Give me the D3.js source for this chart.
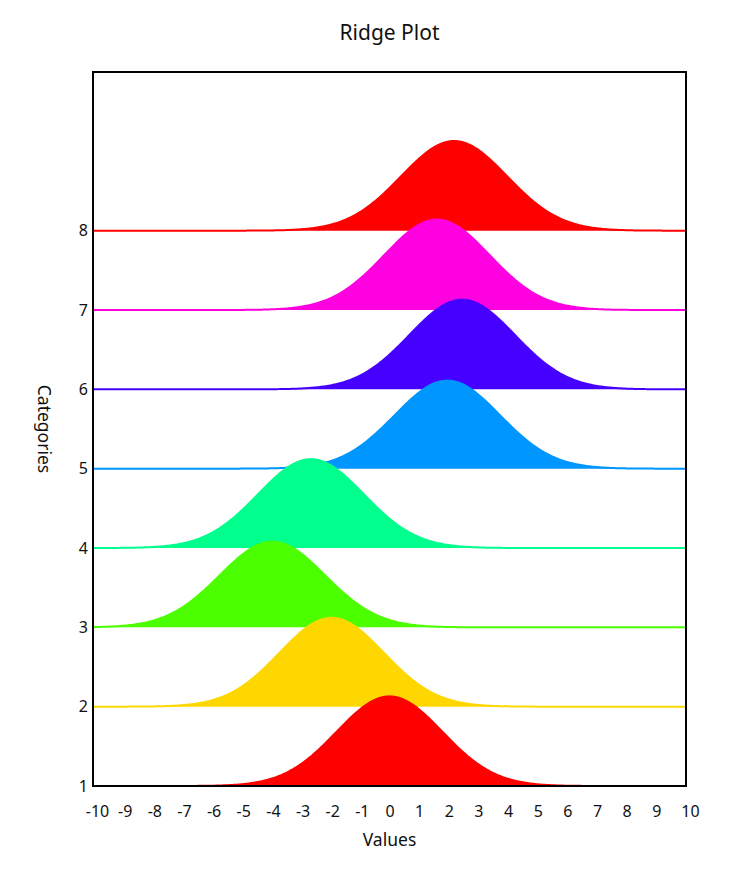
<!DOCTYPE html>
<html>
<head>
<meta charset="utf-8">
<script src="https://cdn.jsdelivr.net/npm/d3@7"></script>
<style>
  html, body { margin: 0; padding: 0; background: #ffffff; }
  svg { display: block; }
  text { font-family: "Noto Sans", "Open Sans", sans-serif; fill: #111; }
</style>
</head>
<body>
<svg id="chart" width="729" height="875"></svg>
<script>
// ---- data ----
const categories = [1, 2, 3, 4, 5, 6, 7, 8];
const means      = [0.0, -1.95, -3.95, -2.65, 1.95, 2.45, 1.6, 2.18];
const sds        = [1.78, 1.76, 1.78, 1.78, 1.78, 1.78, 1.78, 1.79];
const peaks      = [1.13, 1.12, 1.08, 1.12, 1.11, 1.13, 1.14, 1.13];
const colors     = ["#ff0000", "#ffd700", "#4cff00", "#00ff8c", "#0096ff", "#4600ff", "#ff00e0", "#ff0000"];
const xTicks     = [-10, -9, -8, -7, -6, -5, -4, -3, -2, -1, 0, 1, 2, 3, 4, 5, 6, 7, 8, 9, 10];
const yTicks     = [1, 2, 3, 4, 5, 6, 7, 8];

(function () {
const svg = d3.select("#chart");
const mL = 93, mR = 686, mT = 72, mB = 786;

const x = d3.scaleLinear().domain([-10, 10]).range([mL, mR]);
const y = d3.scaleLinear().domain([1, 10]).range([mB, mT]);

const grid = d3.range(-10, 10.0001, 0.05);

const area = d3.area()
  .x(d => x(d[0]))
  .y0(d => y(d[2]))
  .y1(d => y(d[2] + d[1]));
const line = d3.line()
  .x(d => x(d[0]))
  .y(d => y(d[2] + d[1]));

const ridges = svg.append("g");
// highest category first so lower ones sit on top
for (let i = categories.length - 1; i >= 0; i--) {
  const m = means[i], s = sds[i], p = peaks[i], base = categories[i];
  const pts = grid.map(v => [v, p * Math.exp(-0.5 * ((v - m) / s) ** 2), base]);
  ridges.append("path").datum(pts).attr("d", area).attr("fill", colors[i]);
  ridges.append("path").datum(pts).attr("d", line)
    .attr("fill", "none").attr("stroke", colors[i]).attr("stroke-width", 2);
}

// frame
svg.append("rect")
  .attr("x", mL).attr("y", mT)
  .attr("width", mR - mL).attr("height", mB - mT)
  .attr("fill", "none").attr("stroke", "#000").attr("stroke-width", 2);

// x axis labels (no tick marks)
const xAxis = d3.axisBottom(x).tickValues(xTicks).tickSize(0).tickPadding(20).tickFormat(d => String(d));
const gx = svg.append("g").attr("transform", `translate(0,${mB})`).call(xAxis);
gx.select(".domain").remove();
gx.selectAll("text")
  .style("font-family", '"Noto Sans", sans-serif')
  .style("font-size", "16px")
  .attr("fill", "#111")
  .attr("dx", d => d === -10 ? 4 : d === 10 ? 4 : d < 0 ? 2 : 0);

// y axis labels
const yAxis = d3.axisLeft(y).tickValues(yTicks).tickSize(0).tickPadding(5).tickFormat(d => String(d));
const gy = svg.append("g").attr("transform", `translate(${mL},0)`).call(yAxis);
gy.select(".domain").remove();
gy.selectAll("text")
  .style("font-family", '"Noto Sans", sans-serif')
  .style("font-size", "16px")
  .attr("fill", "#111");

// titles
svg.append("text")
  .attr("x", (mL + mR) / 2).attr("y", 40)
  .attr("text-anchor", "middle")
  .style("font-size", "21px")
  .text("Ridge Plot");

svg.append("text")
  .attr("x", (mL + mR) / 2).attr("y", 846)
  .attr("text-anchor", "middle")
  .style("font-size", "17.5px")
  .text("Values");

svg.append("text")
  .attr("transform", `translate(38,${(mT + mB) / 2}) rotate(90)`)
  .attr("text-anchor", "middle")
  .style("font-size", "17.5px")
  .text("Categories");
})();
</script>
</body>
</html>
